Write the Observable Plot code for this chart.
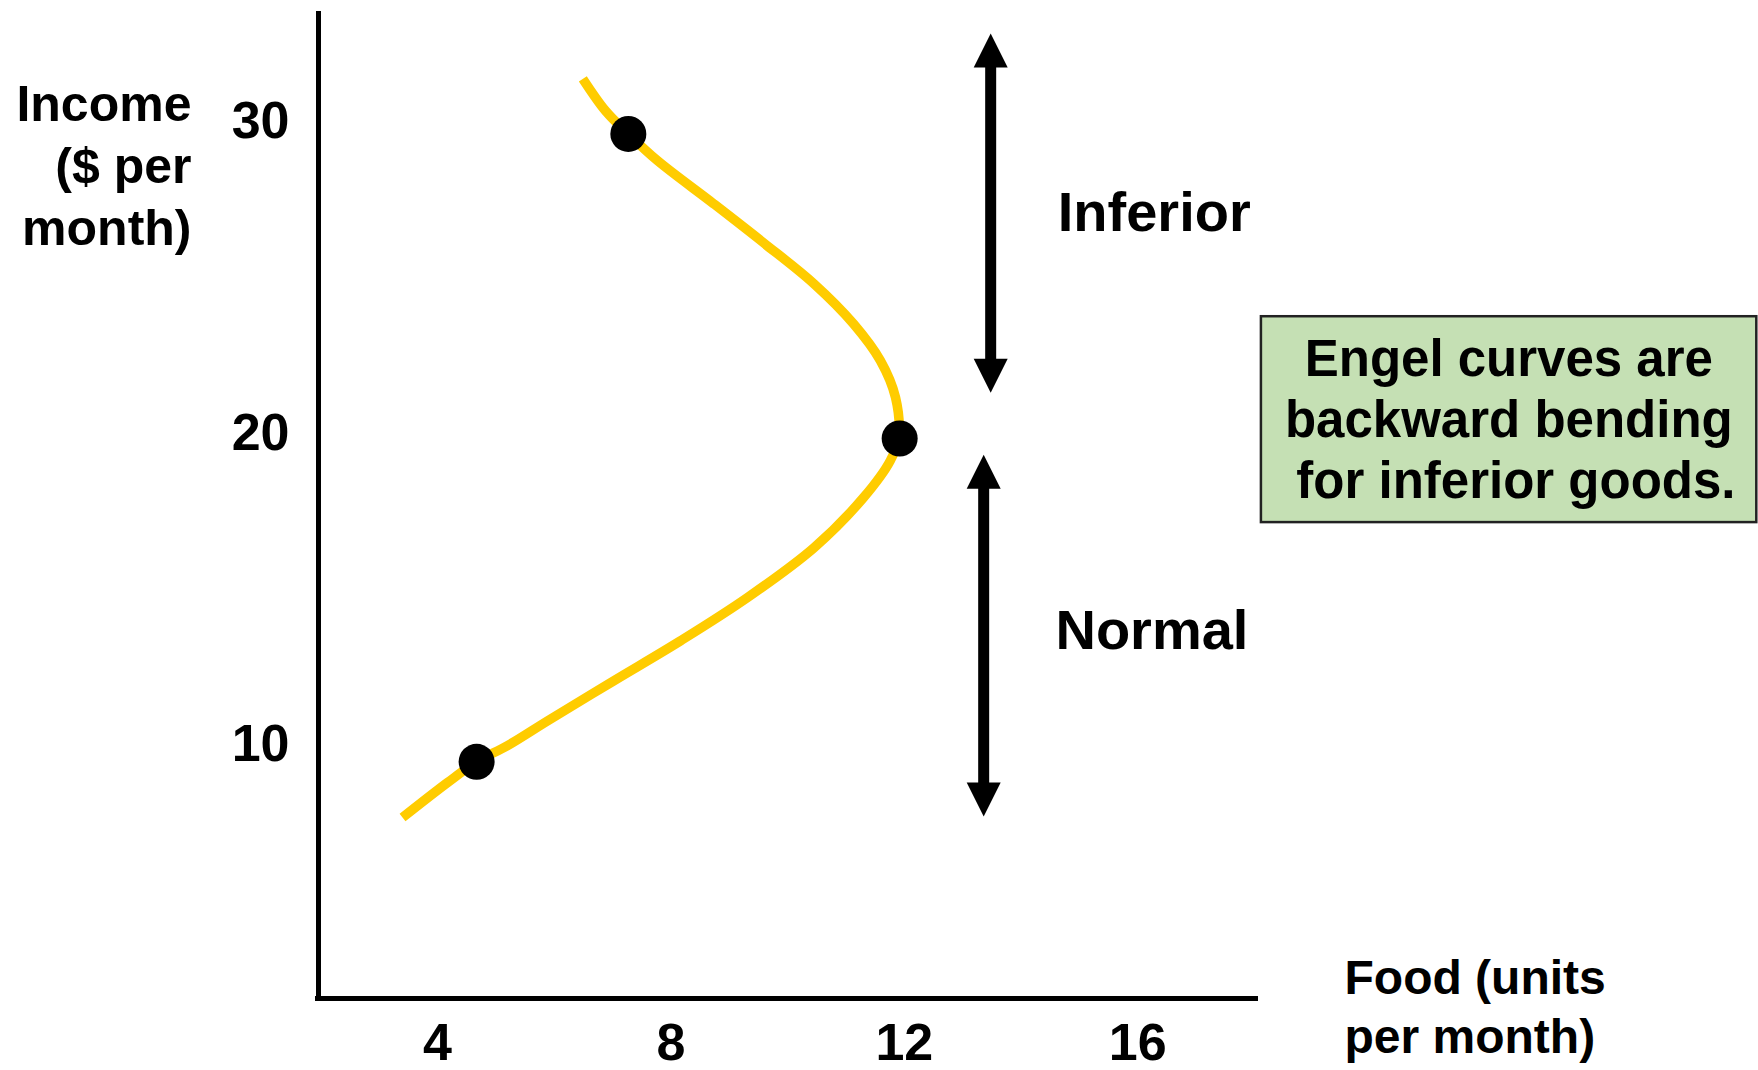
<!DOCTYPE html>
<html>
<head>
<meta charset="utf-8">
<script src="https://cdn.jsdelivr.net/npm/d3@7"></script>
<script src="https://cdn.jsdelivr.net/npm/@observablehq/plot@0.6"></script>
<style>
  html, body { margin: 0; padding: 0; background: #ffffff; }
  #chart { width: 1758px; height: 1070px; }
</style>
</head>
<body>
<div id="chart"></div>
<script>
// ---- Data ----
const xTicks = [4, 8, 12, 16];
const yTicks = [10, 20, 30];

// Engel curve (food units vs income), bottom to top
const curveFood   = [3.40, 4.17, 4.67, 5.20, 5.89, 7.02, 8.17, 9.31, 10.45, 11.30, 11.76, 11.90, 11.85, 11.59, 11.13, 10.45, 9.59, 8.73, 7.77, 7.27, 6.88, 6.49];
const curveIncome = [7.66, 8.78, 9.45, 9.97, 10.77, 12.05, 13.34, 14.72, 16.32, 17.93, 19.12, 19.86, 21.14, 22.33, 23.51, 24.80, 26.11, 27.37, 28.75, 29.61, 30.35, 31.38];

// Highlighted consumption points
const pointFood   = [4.67, 11.92, 7.27];
const pointIncome = [9.45, 19.83, 29.61];

// Range arrows (Inferior above, Normal below)
const arrowNames = ["Inferior", "Normal"];
const arrowFood  = [13.48, 13.36];
const arrowLow   = [21.30, 7.69];
const arrowHigh  = [32.83, 19.31];

// Labels
const labelFood   = [14.63, 14.59];
const labelIncome = [27.08, 13.66];

const noteText = "Engel curves are\nbackward bending\n\u00a0for inferior goods.";
const yTitle = "Income\n($ per\nmonth)";
const xTitle = "Food (units\nper month)";

// ---- Build tables ----
const curve = curveFood.map((f, i) => ({food: f, income: curveIncome[i]}));
const points = pointFood.map((f, i) => ({food: f, income: pointIncome[i]}));
const arrows = arrowNames.map((n, i) => ({name: n, food: arrowFood[i], lo: arrowLow[i], hi: arrowHigh[i]}));
const labels = arrowNames.map((n, i) => ({name: n, food: labelFood[i], income: labelIncome[i]}));

const xDomain = [1.96, 18.07];
const yDomain = [1.85, 33.54];
const FONT = "'Liberation Sans', Arial, Helvetica, sans-serif";

// filled triangle heads with the tip at the anchor point
const headUp = {draw(ctx) { ctx.moveTo(0, 0); ctx.lineTo(-17, 34); ctx.lineTo(17, 34); ctx.closePath(); }};
const headDown = {draw(ctx) { ctx.moveTo(0, 0); ctx.lineTo(-17, -34); ctx.lineTo(17, -34); ctx.closePath(); }};

const chart = Plot.plot({
  width: 1758,
  height: 1070,
  marginLeft: 318,
  marginRight: 500,
  marginTop: 11,
  marginBottom: 72,
  style: {fontFamily: FONT, fontSize: "52px", fontWeight: "bold", color: "black", background: "white", overflow: "visible"},
  x: {domain: xDomain, ticks: xTicks, tickSize: 0, tickPadding: 25, label: null},
  y: {domain: yDomain, ticks: yTicks, tickSize: 0, tickPadding: 29, label: null},
  marks: [
    // axes lines
    Plot.ruleX([xDomain[0]], {stroke: "black", strokeWidth: 5, insetBottom: -2}),
    Plot.ruleY([yDomain[0]], {stroke: "black", strokeWidth: 5, insetLeft: -3}),
    // Engel curve
    Plot.line(curve, {x: "food", y: "income", curve: "catmull-rom", stroke: "#FFCC00", strokeWidth: 9.5, strokeLinecap: "butt"}),
    Plot.dot(points, {x: "food", y: "income", r: 18, fill: "black", stroke: "none"}),
    // double-headed arrows
    Plot.ruleX(arrows, {x: "food", y1: "hi", y2: "lo", stroke: "black", strokeWidth: 11, insetTop: 20, insetBottom: 20}),
    Plot.dot(arrows, {x: "food", y: "hi", symbol: headUp, fill: "black", stroke: "none"}),
    Plot.dot(arrows, {x: "food", y: "lo", symbol: headDown, fill: "black", stroke: "none"}),
    Plot.text(labels, {x: "food", y: "income", text: "name", textAnchor: "start", fontSize: 56, fontWeight: "bold", fontFamily: FONT, fill: "black"}),
    // note box
    Plot.rect([noteText], {x1: 18.12, x2: 26.61, y1: 17.13, y2: 23.74, fill: "#C5E0B4", stroke: "#222222", strokeWidth: 2.5}),
    Plot.text([noteText], {x: 22.36, y: 20.50, text: d => d, textAnchor: "middle", lineAnchor: "middle", lineHeight: 1.2, fontSize: 51, fontWeight: "bold", fontFamily: FONT, fill: "black"}),
    // axis titles
    Plot.text([yTitle], {frameAnchor: "top-left", dx: -127, dy: 152, text: d => d, textAnchor: "end", lineAnchor: "middle", lineHeight: 1.24, fontSize: 50, fontWeight: "bold", fontFamily: FONT, fill: "black"}),
    Plot.text([xTitle], {frameAnchor: "bottom-right", dx: 86, dy: 6, text: d => d, textAnchor: "start", lineAnchor: "middle", lineHeight: 1.23, fontSize: 48, fontWeight: "bold", fontFamily: FONT, fill: "black"})
  ]
});
document.getElementById("chart").appendChild(chart);
</script>
</body>
</html>
